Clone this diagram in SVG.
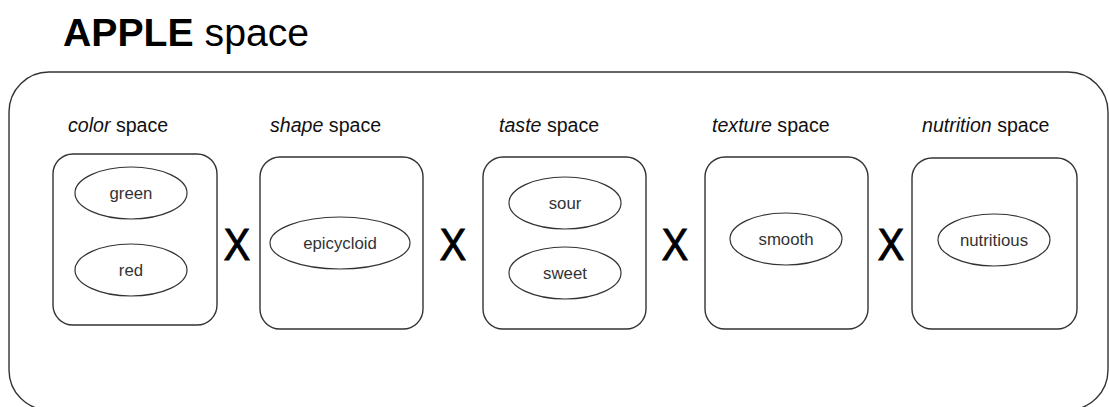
<svg xmlns="http://www.w3.org/2000/svg" width="1109" height="407" viewBox="0 0 1109 407">
<style>
.box{fill:#fff;stroke:#333;stroke-width:1.4}
.el{fill:#fff;stroke:#333;stroke-width:1.2}
.t{font-family:"Liberation Sans",Arial,sans-serif;font-size:16.8px;fill:#333;text-anchor:middle}
.lbl{font-family:"Liberation Sans",Arial,sans-serif;font-size:19.6px;fill:#111}
.x{font-family:"Liberation Sans",Arial,sans-serif;font-size:44px;fill:#000;stroke:#000;stroke-width:1;text-anchor:middle}
</style>
<rect width="1109" height="407" fill="#fff"/>
<text x="63" y="46" font-family="'Liberation Sans',Arial,sans-serif" font-size="39.2px" fill="#000"><tspan font-weight="bold">APPLE</tspan> space</text>
<g id="apple-space">
<rect class="box" x="9" y="72" width="1099" height="338" rx="40" ry="40"/>
</g>
<g id="color-space">
<text class="lbl" x="68" y="132"><tspan font-style="italic">color</tspan> space</text>
<rect class="box" x="53" y="154" width="164" height="171" rx="20" ry="20"/>
<g id="green"><ellipse class="el" cx="131" cy="193" rx="56" ry="26"/><text class="t" x="131" y="199">green</text></g>
<g id="red"><ellipse class="el" cx="131" cy="270" rx="56" ry="26"/><text class="t" x="131" y="276">red</text></g>
</g>
<g id="shape-space">
<text class="lbl" x="270" y="132"><tspan font-style="italic">shape</tspan> space</text>
<rect class="box" x="260" y="157" width="163" height="172" rx="20" ry="20"/>
<g id="epicycloid"><ellipse class="el" cx="340" cy="243" rx="70" ry="26"/><text class="t" x="340" y="249">epicycloid</text></g>
</g>
<g id="taste-space">
<text class="lbl" x="499" y="132"><tspan font-style="italic">taste</tspan> space</text>
<rect class="box" x="483" y="157" width="163" height="172" rx="20" ry="20"/>
<g id="sour"><ellipse class="el" cx="565" cy="203" rx="56" ry="26"/><text class="t" x="565" y="209">sour</text></g>
<g id="sweet"><ellipse class="el" cx="565" cy="273" rx="56" ry="26"/><text class="t" x="565" y="279">sweet</text></g>
</g>
<g id="texture-space">
<text class="lbl" x="712" y="132"><tspan font-style="italic">texture</tspan> space</text>
<rect class="box" x="705" y="157" width="163" height="172" rx="20" ry="20"/>
<g id="smooth"><ellipse class="el" cx="786" cy="239" rx="56" ry="26"/><text class="t" x="786" y="245">smooth</text></g>
</g>
<g id="nutrition-space">
<text class="lbl" x="922" y="132"><tspan font-style="italic">nutrition</tspan> space</text>
<rect class="box" x="912" y="158" width="165" height="171" rx="20" ry="20"/>
<g id="nutritious"><ellipse class="el" cx="994" cy="240" rx="56" ry="26"/><text class="t" x="994" y="246">nutritious</text></g>
</g>
<g id="connectors">
<text class="x" transform="translate(237 260) scale(0.9 1)">X</text>
<text class="x" transform="translate(453 260) scale(0.9 1)">X</text>
<text class="x" transform="translate(675 260) scale(0.9 1)">X</text>
<text class="x" transform="translate(891 260) scale(0.9 1)">X</text>
</g>
</svg>
